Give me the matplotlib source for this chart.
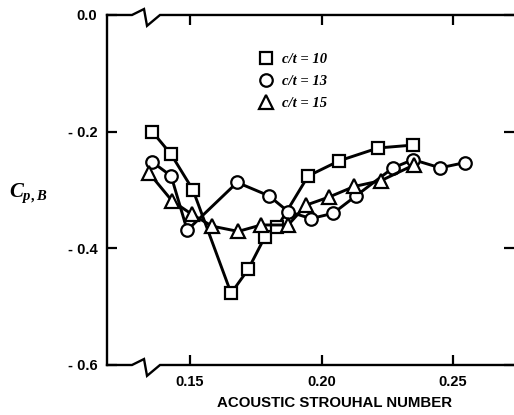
import numpy as np
import matplotlib
matplotlib.use("Agg")
import matplotlib.pyplot as plt
from matplotlib.lines import Line2D

# c/t = 10 (squares)
x_ct10 = [0.1356, 0.1428, 0.1511, 0.1656, 0.1721, 0.1785, 0.1831, 0.1949, 0.2067, 0.2215, 0.2348]
y_ct10 = [-0.200, -0.239, -0.300, -0.477, -0.436, -0.380, -0.364, -0.276, -0.250, -0.228, -0.223]
# c/t = 13 (circles)
x_ct13 = [0.1356, 0.1428, 0.1489, 0.1679, 0.1800, 0.1873, 0.1960, 0.2044, 0.2131, 0.2272, 0.2348, 0.2451, 0.2546]
y_ct13 = [-0.252, -0.276, -0.369, -0.287, -0.310, -0.337, -0.349, -0.340, -0.310, -0.262, -0.248, -0.262, -0.253]
# c/t = 15 (triangles)
x_ct15 = [0.1344, 0.1432, 0.1508, 0.1584, 0.1683, 0.1770, 0.1873, 0.1941, 0.2029, 0.2124, 0.2226, 0.2352]
y_ct15 = [-0.271, -0.319, -0.342, -0.362, -0.371, -0.360, -0.360, -0.326, -0.312, -0.294, -0.284, -0.257]

series_labels = ["c/t = 10", "c/t = 13", "c/t = 15"]
series_markers = ["s", "o", "^"]

xticks = [0.15, 0.20, 0.25]
xtick_labels = ["0.15", "0.20", "0.25"]
yticks = [-0.6, -0.4, -0.2, 0.0]
ytick_labels = ["- 0.6", "- 0.4", "- 0.2", "0.0"]

plt.rcParams["font.family"] = "Liberation Sans"
plt.rcParams["mathtext.fontset"] = "custom"
plt.rcParams["mathtext.it"] = "Liberation Serif:italic:bold"
plt.rcParams["mathtext.rm"] = "Liberation Serif:bold"

fig = plt.figure(figsize=(5.14, 4.15), dpi=100)
ax = fig.add_axes([0.2082, 0.1205, 0.7918, 0.8434])

msize = {"s": 8.5, "o": 9, "^": 9.5}
for xs, ys, m in zip([x_ct10, x_ct13, x_ct15], [y_ct10, y_ct13, y_ct15], series_markers):
    ax.plot(xs, ys, color="black", lw=2.1, marker=m, ms=msize[m],
            mfc="white", mec="black", mew=1.6, clip_on=False)

ax.set_xlim(0.1184, 0.2732)
ax.set_ylim(-0.6, 0.0)

ax.set_xticks(xticks)
ax.set_xticklabels(xtick_labels, fontweight="bold", fontsize=10.5)
ax.set_yticks(yticks)
ax.set_yticklabels(ytick_labels, fontweight="bold", fontsize=10.5)
ax.tick_params(axis="both", direction="in", length=7, width=1.6,
               top=True, right=True)
ax.tick_params(axis="x", pad=7)
ax.tick_params(axis="y", pad=7)

# spines: left drawn normally, top/bottom drawn with break marks
ax.spines["right"].set_visible(False)
ax.spines["top"].set_visible(False)
ax.spines["bottom"].set_visible(False)
ax.spines["left"].set_linewidth(1.7)

bx = [0.0, 0.0614, 0.0909, 0.0983, 0.1302, 1.0]
ax.plot(bx, [1.0, 1.0, 1.017, 0.969, 1.0, 1.0], transform=ax.transAxes,
        color="black", lw=1.7, clip_on=False, solid_joinstyle="miter")
ax.plot(bx, [0.0, 0.0, 0.017, -0.031, 0.0, 0.0], transform=ax.transAxes,
        color="black", lw=1.7, clip_on=False, solid_joinstyle="miter")

ax.set_xlabel("ACOUSTIC STROUHAL NUMBER", fontweight="bold", fontsize=10.8)
ax.xaxis.set_label_coords(0.56, -0.09)

fig.text(0.018, 0.535, r"$C_{p,B}$", fontsize=15, ha="left", va="center")

handles = [Line2D([], [], ls="none", marker=m, ms=msize[m],
                  mfc="white", mec="black", mew=1.6) for m in series_markers]
ax.legend(handles, series_labels, loc="upper left", bbox_to_anchor=(0.355, 0.912),
          frameon=False, handlelength=1.0, handletextpad=0.6, labelspacing=0.6,
          borderpad=0, prop={"family": "Liberation Serif", "style": "italic",
                             "weight": "bold", "size": 10.5})

fig.savefig("out.png", dpi=100)
